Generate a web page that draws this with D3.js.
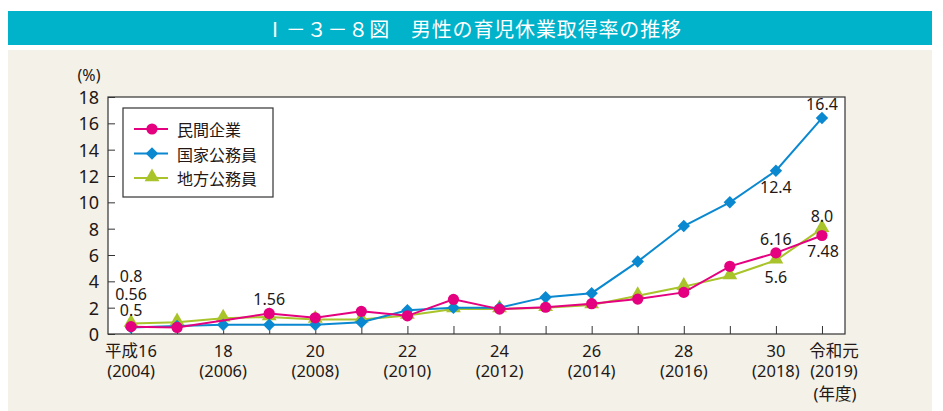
<!DOCTYPE html>
<html>
<head>
<meta charset="utf-8">
<script src="https://cdn.jsdelivr.net/npm/d3@7"></script>
<style>
  body { margin: 0; background: #fff; }
  svg { display: block; }
</style>
</head>
<body>
<svg id="chart" width="943" height="411"></svg>
<script>
// Data (fiscal years, %)
var years = [2004, 2005, 2006, 2007, 2008, 2009, 2010, 2011, 2012, 2013, 2014, 2015, 2016, 2017, 2018, 2019];
var minkan = [0.56, 0.50, null, 1.56, 1.23, 1.72, 1.38, 2.63, 1.89, 2.03, 2.30, 2.65, 3.16, 5.14, 6.16, 7.48];
var kokka = [0.5, 0.6, 0.7, 0.7, 0.7, 0.9, 1.8, 2.0, 2.0, 2.8, 3.1, 5.5, 8.2, 10.0, 12.4, 16.4];
var chiho = [0.8, 0.9, 1.2, 1.3, 1.1, 1.1, 1.4, 1.9, 1.9, 2.0, 2.2, 2.9, 3.6, 4.4, 5.6, 8.0];
var yTicks = [0, 2, 4, 6, 8, 10, 12, 14, 16, 18];
var xLabelYears = [2004, 2006, 2008, 2010, 2012, 2014, 2016, 2018, 2019];
var xLabelTop = ["平成16", "18", "20", "22", "24", "26", "28", "30", "令和元"];
var seriesNames = ["民間企業", "国家公務員", "地方公務員"];

var colors = { minkan: "#e4007f", kokka: "#0a88d0", chiho: "#a9c42a" };
var font = "'Noto Sans', 'Noto Sans CJK JP', sans-serif";
var jpFont = "'Noto Sans CJK JP', sans-serif";

var svg = d3.select("#chart");

// Title bar and panel
svg.append("rect").attr("x", 8).attr("y", 11).attr("width", 924).attr("height", 34).attr("fill", "#00b3cb");
svg.append("text").attr("x", 473).attr("y", 28).attr("text-anchor", "middle").attr("dominant-baseline", "central")
  .attr("fill", "#fff").attr("font-family", jpFont).attr("font-size", 20)
  .attr("textLength", 416).attr("lengthAdjust", "spacing")
  .text("Ⅰ－３－８図　男性の育児休業取得率の推移");
svg.append("rect").attr("x", 8).attr("y", 50).attr("width", 924).attr("height", 361).attr("fill", "#f4f1e9");

var plotL = 108, plotR = 845, plotT = 97, plotB = 334;

var x = d3.scaleLinear().domain([2003.5, 2019.5]).range([plotL, plotR]);
var y = d3.scaleLinear().domain([0, 18]).range([plotB, plotT]);

svg.append("rect").attr("x", plotL).attr("y", plotT).attr("width", plotR - plotL).attr("height", plotB - plotT)
  .attr("fill", "#fff").attr("stroke", "#333").attr("stroke-width", 1.2);

// Axes with inward ticks
var yAxis = svg.append("g").attr("transform", `translate(${plotL},0)`)
  .call(d3.axisRight(y).tickValues(yTicks).tickSize(7).tickFormat(""));
yAxis.select(".domain").remove();
yAxis.selectAll("line").attr("stroke", "#333");

var xAxis = svg.append("g").attr("transform", `translate(0,${plotB})`)
  .call(d3.axisTop(x).tickValues(years).tickSize(8).tickFormat(""));
xAxis.select(".domain").remove();
xAxis.selectAll("line").attr("stroke", "#333");

// Y tick labels
svg.append("g").selectAll("text").data(yTicks).join("text")
  .attr("x", 99).attr("y", d => y(d)).attr("text-anchor", "end").attr("dominant-baseline", "central")
  .attr("font-family", font).attr("font-size", 18).attr("fill", "#231815")
  .text(d => d);
svg.append("text").attr("x", 89).attr("y", 75).attr("text-anchor", "middle").attr("dominant-baseline", "central")
  .attr("font-family", font).attr("font-size", 16).attr("fill", "#231815").text("(%)");

// X tick labels
var xl = svg.append("g").attr("font-family", font).attr("font-size", 16.5).attr("fill", "#231815").attr("text-anchor", "middle");
xLabelYears.forEach(function(yr, i) {
  var cx = x(yr) + (yr === 2019 ? 12 : 0);
  xl.append("text").attr("x", cx).attr("y", 350).attr("dominant-baseline", "central").text(xLabelTop[i]);
  xl.append("text").attr("x", cx).attr("y", 370).attr("dominant-baseline", "central").text("(" + yr + ")");
});
xl.append("text").attr("x", x(2019) + 13).attr("y", 393).attr("dominant-baseline", "central").text("(年度)");

// Lines
var line = d3.line().x(d => x(d[0])).y(d => y(d[1]));
function pairs(vals) { return years.map((yr, i) => [yr, vals[i]]).filter(d => d[1] !== null); }

var symDiamond = d3.symbol().type(d3.symbolSquare).size(78);
var symTri = d3.symbol().type(d3.symbolTriangle).size(95);

function drawSeries(vals, color, kind) {
  var pts = pairs(vals);
  svg.append("path").datum(pts).attr("d", line).attr("fill", "none").attr("stroke", color).attr("stroke-width", 2);
  var g = svg.append("g");
  if (kind === "circle") {
    g.selectAll("circle").data(pts).join("circle")
      .attr("cx", d => x(d[0])).attr("cy", d => y(d[1])).attr("r", 5.6).attr("fill", color);
  } else if (kind === "diamond") {
    g.selectAll("path").data(pts).join("path")
      .attr("d", symDiamond).attr("transform", d => `translate(${x(d[0])},${y(d[1])}) rotate(45)`).attr("fill", color);
  } else {
    g.selectAll("path").data(pts).join("path")
      .attr("d", symTri).attr("transform", d => `translate(${x(d[0])},${y(d[1]) - 1})`).attr("fill", color);
  }
}
drawSeries(chiho, colors.chiho, "triangle");
drawSeries(kokka, colors.kokka, "diamond");
drawSeries(minkan, colors.minkan, "circle");

// Value labels
var labels = [
  { yr: 2004, text: "0.8", dx: 0, py: 276 },
  { yr: 2004, text: "0.56", dx: 0, py: 294 },
  { yr: 2004, text: "0.5", dx: 0, py: 310 },
  { yr: 2007, text: "1.56", dx: 0, py: 299 },
  { yr: 2019, text: "16.4", dx: 0, py: 104 },
  { yr: 2018, text: "12.4", dx: 0, py: 187 },
  { yr: 2019, text: "8.0", dx: 0, py: 216 },
  { yr: 2018, text: "6.16", dx: 0, py: 239 },
  { yr: 2019, text: "7.48", dx: 1, py: 251 },
  { yr: 2018, text: "5.6", dx: 0, py: 277 }
];
svg.append("g").selectAll("text").data(labels).join("text")
  .attr("x", d => x(d.yr) + d.dx).attr("y", d => d.py)
  .attr("text-anchor", "middle").attr("dominant-baseline", "central")
  .attr("font-family", font).attr("font-size", 16).attr("fill", "#231815")
  .text(d => d.text);

// Legend
var lg = svg.append("g");
lg.append("rect").attr("x", 123).attr("y", 108).attr("width", 150).attr("height", 89)
  .attr("fill", "#fff").attr("stroke", "#333").attr("stroke-width", 1.2);
var legendRows = [
  { name: seriesNames[0], color: colors.minkan, kind: "circle" },
  { name: seriesNames[1], color: colors.kokka, kind: "diamond" },
  { name: seriesNames[2], color: colors.chiho, kind: "triangle" }
];
legendRows.forEach(function(r, i) {
  var ly = 129 + i * 24.5;
  lg.append("line").attr("x1", 134).attr("x2", 168).attr("y1", ly).attr("y2", ly).attr("stroke", r.color).attr("stroke-width", 2);
  if (r.kind === "circle") lg.append("circle").attr("cx", 152).attr("cy", ly).attr("r", 5.6).attr("fill", r.color);
  else if (r.kind === "diamond") lg.append("path").attr("d", symDiamond).attr("transform", `translate(152,${ly}) rotate(45)`).attr("fill", r.color);
  else lg.append("path").attr("d", symTri).attr("transform", `translate(152,${ly - 1})`).attr("fill", r.color);
  lg.append("text").attr("x", 177).attr("y", ly).attr("dominant-baseline", "central")
    .attr("font-family", jpFont).attr("font-size", 16).attr("fill", "#231815").text(r.name);
});
</script>
</body>
</html>
